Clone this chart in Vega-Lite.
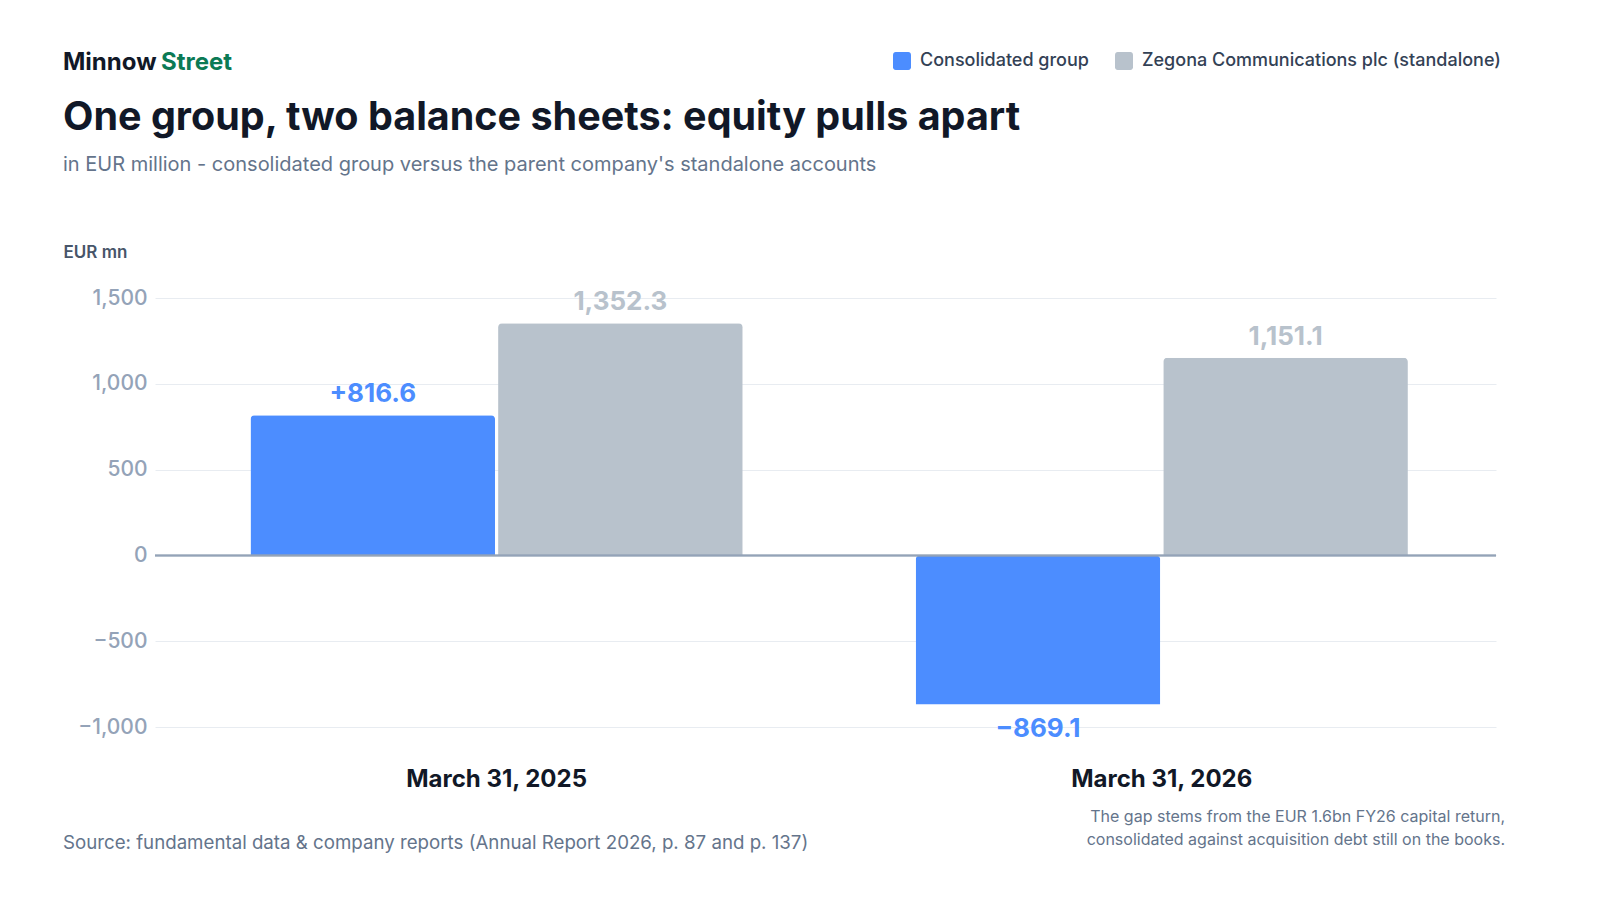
{
  "$schema": "https://vega.github.io/schema/vega-lite/v6.json",
  "width": 1341,
  "height": 429,
  "autosize": "none",
  "padding": {"left": 155, "top": 298, "right": 104, "bottom": 173},
  "background": "white",
  "config": {
    "font": "Inter",
    "view": {"stroke": null}
  },
  "title": {
    "text": "One group, two balance sheets: equity pulls apart",
    "subtitle": "in EUR million - consolidated group versus the parent company's standalone accounts",
    "anchor": "start",
    "frame": "group",
    "dx": -92,
    "offset": -125,
    "fontSize": 39.5,
    "fontWeight": 700,
    "color": "#111827",
    "subtitleFontSize": 20,
    "subtitleColor": "#64748B",
    "subtitleFontWeight": 400,
    "subtitlePadding": 17
  },
  "datasets": {
    "equity": [
      {"period": "March 31, 2025", "series": "Consolidated group", "value": 816.6, "label": "+816.6"},
      {"period": "March 31, 2025", "series": "Zegona Communications plc (standalone)", "value": 1352.3, "label": "1,352.3"},
      {"period": "March 31, 2026", "series": "Consolidated group", "value": -869.1, "label": "−869.1"},
      {"period": "March 31, 2026", "series": "Zegona Communications plc (standalone)", "value": 1151.1, "label": "1,151.1"}
    ],
    "notes": [
      {"kind": "brand1", "text": "Minnow"},
      {"kind": "brand2", "text": "Street"},
      {"kind": "source", "text": "Source: fundamental data & company reports (Annual Report 2026, p. 87 and p. 137)"},
      {"kind": "note", "text": ["The gap stems from the EUR 1.6bn FY26 capital return,", "consolidated against acquisition debt still on the books."]}
    ]
  },
  "layer": [
    {
      "data": {"name": "equity"},
      "mark": {"type": "bar", "cornerRadiusEnd": 4},
      "encoding": {
        "x": {
          "field": "period",
          "type": "nominal",
          "scale": {"paddingInner": 0.26, "paddingOuter": 0.138, "align": 0.52},
          "axis": {
            "title": null,
            "orient": "bottom",
            "labelAngle": 0,
            "labelFontSize": 24,
            "labelFontWeight": 700,
            "labelColor": "#111827",
            "labelPadding": 40,
            "labelLimit": 500,
            "domain": false,
            "ticks": false
          }
        },
        "xOffset": {
          "field": "series",
          "type": "nominal",
          "sort": ["Consolidated group", "Zegona Communications plc (standalone)"],
          "scale": {"paddingInner": 0.012}
        },
        "y": {
          "field": "value",
          "type": "quantitative",
          "scale": {"domain": [-1000, 1500], "nice": false},
          "axis": {
            "values": [-1000, -500, 0, 500, 1000, 1500],
            "format": ",.0f",
            "labelFontSize": 21,
            "labelFontWeight": 500,
            "labelColor": "#94A3B8",
            "labelPadding": 8,
            "grid": true,
            "gridColor": "#E8ECF1",
            "domain": false,
            "ticks": false,
            "title": "EUR mn",
            "titleAngle": 0,
            "titleX": -92,
            "titleY": -46,
            "titleAlign": "left",
            "titleBaseline": "middle",
            "titleFontSize": 17,
            "titleFontWeight": 600,
            "titleColor": "#475569"
          }
        },
        "color": {
          "field": "series",
          "type": "nominal",
          "scale": {
            "domain": ["Consolidated group", "Zegona Communications plc (standalone)"],
            "range": ["#4C8DFF", "#B8C2CC"]
          },
          "legend": {
            "title": null,
            "orient": "none",
            "direction": "horizontal",
            "legendX": 738,
            "legendY": -246,
            "symbolType": "M-0.7,-1H0.7A0.3,0.3 0 0 1 1,-0.7V0.7A0.3,0.3 0 0 1 0.7,1H-0.7A0.3,0.3 0 0 1 -1,0.7V-0.7A0.3,0.3 0 0 1 -0.7,-1Z",
            "symbolSize": 324,
            "symbolStrokeWidth": 0,
            "labelFontSize": 18,
            "labelFontWeight": 500,
            "labelColor": "#334155",
            "labelOffset": 9,
            "labelLimit": 500,
            "columnPadding": 26
          }
        }
      }
    },
    {
      "data": {"name": "equity"},
      "mark": {"type": "rule", "color": "#94A3B8", "strokeWidth": 1.5},
      "encoding": {"y": {"datum": 0}}
    },
    {
      "data": {"name": "equity"},
      "transform": [{"filter": "datum.value >= 0"}],
      "mark": {"type": "text", "baseline": "alphabetic", "dy": -13, "fontSize": 26, "fontWeight": 700},
      "encoding": {
        "x": {"field": "period", "type": "nominal"},
        "xOffset": {"field": "series", "type": "nominal", "sort": ["Consolidated group", "Zegona Communications plc (standalone)"]},
        "y": {"field": "value", "type": "quantitative"},
        "text": {"field": "label"},
        "color": {"field": "series", "type": "nominal"}
      }
    },
    {
      "data": {"name": "equity"},
      "transform": [{"filter": "datum.value < 0"}],
      "mark": {"type": "text", "baseline": "top", "dy": 11, "fontSize": 26, "fontWeight": 700},
      "encoding": {
        "x": {"field": "period", "type": "nominal"},
        "xOffset": {"field": "series", "type": "nominal", "sort": ["Consolidated group", "Zegona Communications plc (standalone)"]},
        "y": {"field": "value", "type": "quantitative"},
        "text": {"field": "label"},
        "color": {"field": "series", "type": "nominal"}
      }
    },
    {
      "data": {"name": "notes"},
      "transform": [{"filter": "datum.kind == 'brand1'"}],
      "mark": {"type": "text", "align": "left", "baseline": "middle", "x": -92, "y": -235, "fontSize": 24, "fontWeight": 700, "color": "#111827"},
      "encoding": {"text": {"field": "text"}}
    },
    {
      "data": {"name": "notes"},
      "transform": [{"filter": "datum.kind == 'brand2'"}],
      "mark": {"type": "text", "align": "left", "baseline": "middle", "x": 6, "y": -235, "fontSize": 24, "fontWeight": 700, "color": "#0B7A55"},
      "encoding": {"text": {"field": "text"}}
    },
    {
      "data": {"name": "notes"},
      "transform": [{"filter": "datum.kind == 'source'"}],
      "mark": {"type": "text", "align": "left", "baseline": "middle", "x": -92, "y": 545, "fontSize": 18.7, "color": "#64748B"},
      "encoding": {"text": {"field": "text"}}
    },
    {
      "data": {"name": "notes"},
      "transform": [{"filter": "datum.kind == 'note'"}],
      "mark": {"type": "text", "align": "right", "baseline": "middle", "x": 1350, "y": 519, "fontSize": 16, "lineHeight": 23, "color": "#64748B"},
      "encoding": {"text": {"field": "text"}}
    }
  ]
}
